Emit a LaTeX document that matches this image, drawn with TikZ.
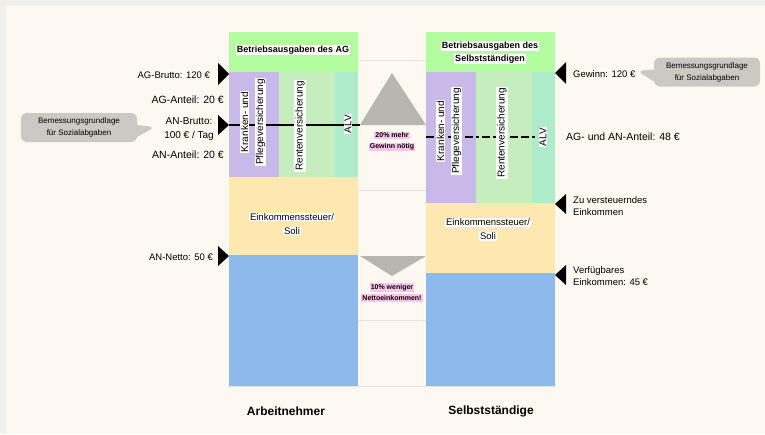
\documentclass[tikz,border=0pt]{standalone}
\usepackage{fontspec}
\setmainfont{Liberation Sans}
\usetikzlibrary{shapes.callouts}

\definecolor{framegray}{HTML}{F0F0EC}
\definecolor{paper}{HTML}{FDF9F1}
\definecolor{costgreen}{HTML}{B3FCA0}
\definecolor{kvpurple}{HTML}{C9B9E8}
\definecolor{rvgreen}{HTML}{C6EDBE}
\definecolor{alvmint}{HTML}{AEEBCB}
\definecolor{taxyellow}{HTML}{FFE8B0}
\definecolor{netblue}{HTML}{8DBAEB}
\definecolor{trigray}{HTML}{B8B6B1}
\definecolor{notepink}{HTML}{FFC4EC}
\definecolor{bubblegray}{HTML}{CCC9C5}
\definecolor{rulegray}{HTML}{E4E2DD}

\newcommand{\onwhite}[1]{{\setlength{\fboxsep}{1pt}\colorbox{white}{#1}}}
\newcommand{\onpink}[1]{{\setlength{\fboxsep}{1pt}\colorbox{notepink}{#1}}}

\begin{document}
\begin{tikzpicture}[x=1pt,y=-1pt,
  side/.style={font=\fontsize{9.5}{12.5}\selectfont, inner sep=0pt},
  share/.style={font=\fontsize{10.5}{14}\selectfont, inner sep=0pt},
  inbox/.style={font=\fontsize{10}{15}\selectfont, inner sep=0pt, align=center},
  note/.style={font=\bfseries\fontsize{7}{11}\selectfont, inner sep=0pt, align=center},
  bubble/.style={rectangle callout, fill=bubblegray, rounded corners=6pt, minimum height=29pt,
    inner sep=0pt, align=center, callout pointer width=12pt, font=\fontsize{8}{12}\selectfont},
  gridline/.style={draw=rulegray, line width=0.8pt}
]

 \useasboundingbox (0,0) rectangle (765,434);
 \fill[framegray] (0,0) rectangle (765,434);
 \fill[paper] (6,6) rectangle (765,434);

 % Arbeitnehmer
 \fill[costgreen] (229,32) rectangle (358,72);
 \fill[kvpurple] (229,72) rectangle (279,177);
 \fill[rvgreen] (279,72) rectangle (335,177);
 \fill[alvmint] (335,72) rectangle (358,177);
 \fill[taxyellow] (229,177) rectangle (358,255);
 \fill[netblue] (229,255) rectangle (358,386);

 % Selbststaendige
 \fill[costgreen] (426,32) rectangle (555,72);
 \fill[kvpurple] (426,72) rectangle (476,203);
 \fill[rvgreen] (476,72) rectangle (532,203);
 \fill[alvmint] (532,72) rectangle (555,203);
 \fill[taxyellow] (426,203) rectangle (555,273);
 \fill[netblue] (426,273) rectangle (555,386);

 \draw[gridline] (358,60) -- (426,60);
 \draw[gridline] (358,190) -- (426,190);
 \draw[gridline] (358,320) -- (426,320);
 \draw[gridline] (229,386) -- (555,386);

 \fill[trigray] (360,125) -- (392,73) -- (426,125) -- cycle;
 \fill[trigray] (360,256) -- (426,256) -- (392,276) -- cycle;

 \draw[line width=1.5pt] (229,125) -- (360,125);
 \draw[line width=1.5pt, dash pattern=on 8pt off 3pt on 8pt off 3pt on 3pt off 3pt] (426,137) -- (537,137);

 \fill (229,74) -- ++(-11,-11) -- ++(0,22) -- cycle;
 \fill (229,125) -- ++(-11,-10) -- ++(0,20) -- cycle;
 \fill (229,256) -- ++(-11,-10) -- ++(0,20) -- cycle;
 \fill (555,73) -- ++(11,-11) -- ++(0,22) -- cycle;
 \fill (555,204) -- ++(11,-10) -- ++(0,20) -- cycle;
 \fill (555,275) -- ++(11,-10) -- ++(0,20) -- cycle;

 \node[inbox, font=\bfseries\fontsize{9}{13}\selectfont] (kostenag) at (293,50) {\onwhite{Betriebsausgaben des AG}};
 \node[inbox, font=\bfseries\fontsize{9}{13}\selectfont] (kostensst) at (490,52.5) {\onwhite{Betriebsausgaben des}\\\onwhite{Selbstständigen}};

 \node[inbox, rotate=90] (kvag) at (253,122) {\onwhite{Kranken- und}\\\onwhite{Pflegeversicherung}};
 \node[inbox, rotate=90] (rvag) at (300,126) {\onwhite{Rentenversicherung}};
 \node[inbox, rotate=90] (alvag) at (348,124) {\onwhite{ALV}};
 \node[inbox, rotate=90] (kvsst) at (449,131) {\onwhite{Kranken- und}\\\onwhite{Pflegeversicherung}};
 \node[inbox, rotate=90] (rvsst) at (502,133) {\onwhite{Rentenversicherung}};
 \node[inbox, rotate=90] (alvsst) at (543,137) {\onwhite{ALV}};

 \node[inbox, font=\fontsize{9.5}{14}\selectfont] (estag) at (292,224) {\onwhite{Einkommenssteuer/}\\\onwhite{Soli}};
 \node[inbox, font=\fontsize{9.5}{14}\selectfont] (estsst) at (488,229.5) {\onwhite{Einkommenssteuer/}\\\onwhite{Soli}};

 \node[note] (mehr) at (392,141.5) {\onpink{20\% mehr}\\\onpink{Gewinn nötig}};
 \node[note] (weniger) at (392,292.5) {\onpink{10\% weniger}\\\onpink{Nettoeinkommen!}};

 \node[side, anchor=east] (agbrutto) at (210,75) {AG-Brutto: 120 €};
 \node[share, anchor=east] (aganteil) at (224,100) {AG-Anteil: 20 €};
 \node[share, align=center, font=\fontsize{10}{14}\selectfont] (anbrutto) at (189,129) {AN-Brutto:\\100 € / Tag};
 \node[share, anchor=east] (ananteil) at (224,155) {AN-Anteil: 20 €};
 \node[side, anchor=east] (annetto) at (213,257) {AN-Netto: 50 €};

 \node[side, anchor=west] (gewinn) at (573,74) {Gewinn: 120 €};
 \node[share, anchor=west] (anteil) at (566,137) {AG- und AN-Anteil: 48 €};
 \node[side, anchor=west, align=left] (zve) at (573,206) {Zu versteuerndes\\Einkommen};
 \node[side, anchor=west, align=left] (verfuegbar) at (573,276) {Verfügbares\\Einkommen: 45 €};

 \coordinate (lefttip) at (155,127);
 \coordinate (righttip) at (637,71);
 \node[bubble, minimum width=116pt, callout absolute pointer={(lefttip)}] (leftnote) at (79,127.5) {Bemessungsgrundlage\\für Sozialabgaben};
 \node[bubble, minimum width=106pt, callout absolute pointer={(righttip)}] (rightnote) at (707,72) {Bemessungsgrundlage\\für Sozialabgaben};

 \node[font=\bfseries\fontsize{12}{14}\selectfont] (arbeitnehmer) at (286,411) {Arbeitnehmer};
 \node[font=\bfseries\fontsize{12}{14}\selectfont] (selbststaendige) at (491,411) {Selbstständige};

\end{tikzpicture}
\end{document}
